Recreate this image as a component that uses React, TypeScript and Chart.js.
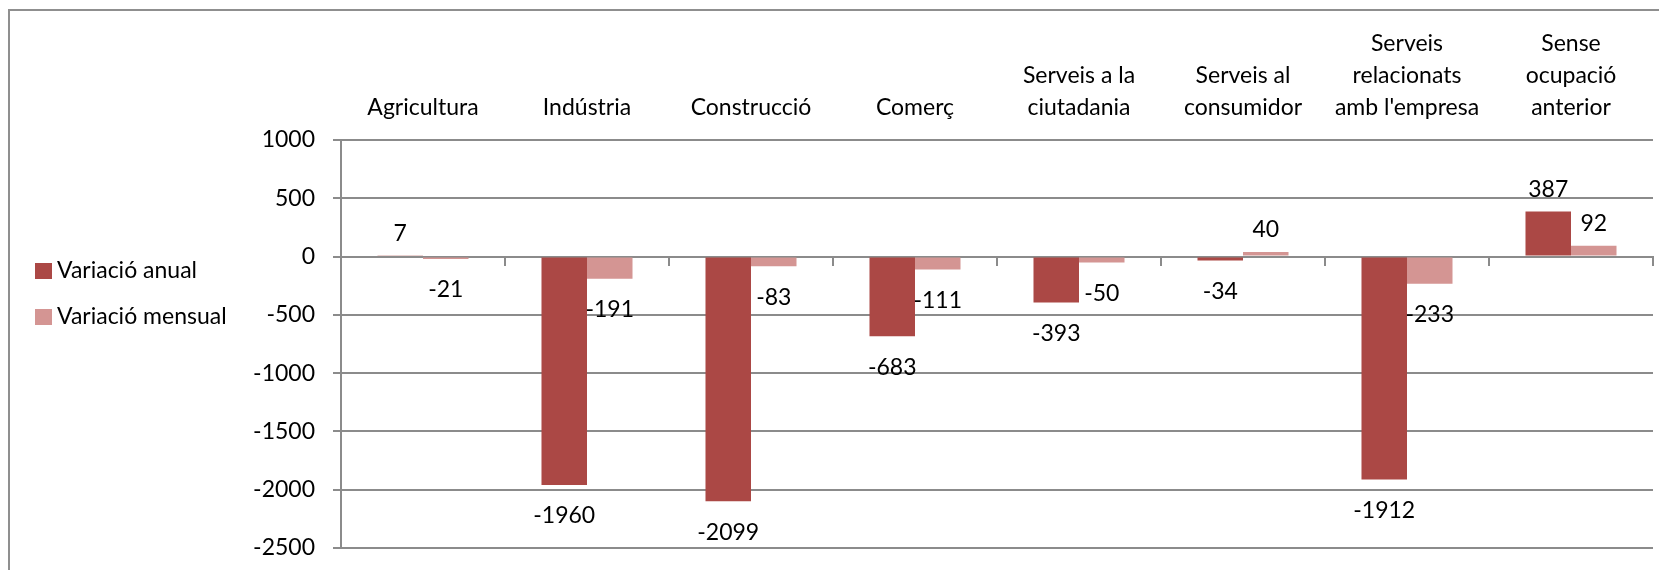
import { useEffect, useRef } from 'react';
import { Chart, registerables } from 'chart.js';

Chart.register(...registerables);

const FONT = 'Lato';

const categories: (string | string[])[] = [
  'Agricultura',
  'Indústria',
  'Construcció',
  'Comerç',
  ['Serveis a la', 'ciutadania'],
  ['Serveis al', 'consumidor'],
  ['Serveis', 'relacionats', "amb l'empresa"],
  ['Sense', 'ocupació', 'anterior'],
];
const seriesNames = ['Variació anual', 'Variació mensual'];
const variacioAnual = [7, -1960, -2099, -683, -393, -34, -1912, 387];
const variacioMensual = [-21, -191, -83, -111, -50, 40, -233, 92];
const yMin = -2500;
const yMax = 1000;
const yStep = 500;
const seriesColors = ['#AB4845', '#D49593'];
const axisGray = '#8b8b8b';

const dataLabels = {
  id: 'dataLabels',
  afterDatasetsDraw(chart: any) {
    const ctx = chart.ctx;
    ctx.save();
    ctx.font = `23px ${FONT}`;
    ctx.fillStyle = '#000';
    ctx.textAlign = 'center';
    ctx.textBaseline = 'middle';
    chart.data.datasets.forEach((ds: any, di: number) => {
      const meta = chart.getDatasetMeta(di);
      meta.data.forEach((el: any, i: number) => {
        const v = ds.data[i] as number;
        const y = v >= 0 ? el.y - 22 : el.y + 31;
        ctx.fillText(String(v), el.x, y);
      });
    });
    ctx.restore();
  },
};

const frameAndLegend = {
  id: 'frameAndLegend',
  afterDraw(chart: any) {
    const ctx = chart.ctx;
    ctx.save();
    // outer frame (left and top edges visible)
    ctx.strokeStyle = '#8f8f8f';
    ctx.lineWidth = 2;
    ctx.beginPath();
    ctx.moveTo(9, chart.height + 2);
    ctx.lineTo(9, 10);
    ctx.lineTo(chart.width + 2, 10);
    ctx.stroke();
    // legend
    ctx.font = `23px ${FONT}`;
    ctx.textAlign = 'left';
    ctx.textBaseline = 'middle';
    chart.data.datasets.forEach((ds: any, i: number) => {
      const cy = 271 + i * 46;
      ctx.fillStyle = ds.backgroundColor;
      ctx.fillRect(35, cy - 8, 17, 16);
      ctx.fillStyle = '#000';
      ctx.fillText(ds.label, 57, cy);
    });
    ctx.restore();
  },
};

export default function App() {
  const ref = useRef<HTMLCanvasElement>(null);

  useEffect(() => {
    if (!ref.current) return;
    const chart = new Chart(ref.current, {
      type: 'bar',
      data: {
        labels: categories,
        datasets: [
          {
            label: seriesNames[0],
            data: variacioAnual,
            backgroundColor: seriesColors[0],
            xAxisID: 'x',
            yAxisID: 'y',
          },
          {
            label: seriesNames[1],
            data: variacioMensual,
            backgroundColor: seriesColors[1],
            xAxisID: 'x',
            yAxisID: 'y',
          },
        ],
      },
      options: {
        responsive: false,
        animation: false,
        devicePixelRatio: 1,
        layout: { padding: { left: 0, top: 0, right: 6, bottom: 22 } },
        datasets: {
          bar: { categoryPercentage: 0.555, barPercentage: 1, borderWidth: 0 },
        },
        plugins: {
          legend: { display: false },
          tooltip: { enabled: false },
        },
        scales: {
          x: {
            type: 'category',
            position: 'top',
            offset: true,
            grid: { display: false, drawTicks: false, tickLength: 0 },
            border: { display: false },
            ticks: {
              autoSkip: false,
              maxRotation: 0,
              minRotation: 0,
              padding: 16,
              color: '#000',
              font: { family: FONT, size: 23, lineHeight: 1.39 },
            },
            afterFit(scale: any) {
              scale.height = 140;
              scale.paddingLeft = 0;
              scale.paddingRight = 0;
            },
          },
          x2: {
            type: 'category',
            labels: categories as any,
            position: { y: 0 } as any,
            offset: true,
            grid: {
              offset: true,
              drawOnChartArea: false,
              drawTicks: true,
              tickLength: 8,
              color: axisGray,
              lineWidth: 2,
            },
            border: { display: true, color: axisGray, width: 2 },
            ticks: { display: false },
          },
          y: {
            type: 'linear',
            min: yMin,
            max: yMax,
            grid: {
              color: axisGray,
              lineWidth: 2,
              drawTicks: true,
              tickLength: 8,
            },
            border: { display: true, color: axisGray, width: 2 },
            ticks: {
              stepSize: yStep,
              padding: 18,
              color: '#000',
              font: { family: FONT, size: 23 },
              callback: (v: any) => String(v),
            },
            afterFit(scale: any) {
              scale.width = 341;
              scale.paddingTop = 0;
              scale.paddingBottom = 0;
            },
          },
        },
      } as any,
      plugins: [dataLabels, frameAndLegend],
    });
    return () => chart.destroy();
  }, []);

  return (
    <div style={{ position: 'fixed', left: 0, top: 0, width: 1659, height: 570, background: '#fff' }}>
      <canvas ref={ref} width={1659} height={570} style={{ width: 1659, height: 570, display: 'block' }} />
    </div>
  );
}
